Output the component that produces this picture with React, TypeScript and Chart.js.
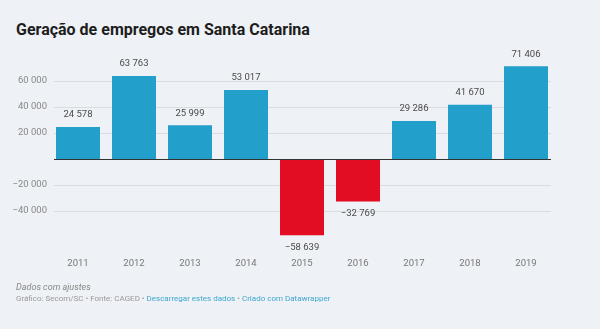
import React, { useEffect, useRef } from "react";
import { Chart, registerables } from "chart.js";

Chart.register(...registerables);

const years = ["2011", "2012", "2013", "2014", "2015", "2016", "2017", "2018", "2019"];
const values = [24578, 63763, 25999, 53017, -58639, -32769, 29286, 41670, 71406];
const yTickValues = [60000, 40000, 20000, -20000, -40000];
const yMin = -70000;
const yMax = 80000;

const BLUE = "#229fcb";
const RED = "#e20d22";
const BG = "#eef1f5";
const FONT = "Roboto, 'Noto Sans', sans-serif";

function fmt(v: number): string {
  const s = Math.abs(v).toString().replace(/\B(?=(\d{3})+(?!\d))/g, " ");
  return (v < 0 ? "\u2212" : "") + s;
}

const gridPlugin = {
  id: "customGrid",
  beforeDatasetsDraw(chart: any) {
    const { ctx, chartArea, scales } = chart;
    const y = scales.y;
    ctx.save();
    ctx.strokeStyle = "#d8dbe0";
    ctx.lineWidth = 1;
    yTickValues.forEach((v) => {
      const py = Math.round(y.getPixelForValue(v)) + 0.5;
      ctx.beginPath();
      ctx.moveTo(chartArea.left + 4, py);
      ctx.lineTo(chartArea.right - 3, py);
      ctx.stroke();
    });
    ctx.restore();
  },
  afterDatasetsDraw(chart: any) {
    const { ctx, chartArea, scales } = chart;
    const y = scales.y;
    ctx.save();
    const py = Math.round(y.getPixelForValue(0)) + 0.5;
    ctx.strokeStyle = "#333333";
    ctx.lineWidth = 1;
    ctx.beginPath();
    ctx.moveTo(chartArea.left + 4, py);
    ctx.lineTo(chartArea.right - 3, py);
    ctx.stroke();

    const meta = chart.getDatasetMeta(0);
    ctx.fillStyle = "#4a4a4a";
    ctx.font = `9.5px ${FONT}`;
    ctx.textAlign = "center";
    ctx.textBaseline = "middle";
    meta.data.forEach((el: any, i: number) => {
      const v = values[i];
      const ly = v >= 0 ? el.y - 12 : el.y + 12;
      ctx.fillText(fmt(v), el.x, ly);
    });
    ctx.restore();
  },
};

export default function App() {
  const canvasRef = useRef<HTMLCanvasElement | null>(null);

  useEffect(() => {
    if (!canvasRef.current) return;
    const chart = new Chart(canvasRef.current, {
      type: "bar",
      data: {
        labels: years,
        datasets: [
          {
            data: values,
            backgroundColor: values.map((v) => (v >= 0 ? BLUE : RED)),
            barPercentage: 44 / 56,
            categoryPercentage: 1,
            borderWidth: 0,
          },
        ],
      },
      options: {
        responsive: false,
        animation: false,
        devicePixelRatio: 1,
        layout: { padding: { left: 0, right: 46, top: 55, bottom: 49 } },
        plugins: {
          legend: { display: false },
          tooltip: { enabled: false },
          title: { display: false },
        },
        scales: {
          x: {
            grid: { display: false, drawTicks: false },
            border: { display: false },
            ticks: {
              color: "#777777",
              font: { family: FONT, size: 9.5 },
              padding: 8,
            },
            afterFit(scale: any) {
              scale.height = 30;
            },
          },
          y: {
            min: yMin,
            max: yMax,
            grid: { display: false, drawTicks: false },
            border: { display: false },
            ticks: {
              color: "#888888",
              font: { family: FONT, size: 9.5 },
              padding: 3,
              callback: (v: any) => fmt(Number(v)),
            },
            afterBuildTicks(scale: any) {
              scale.ticks = yTickValues.map((v) => ({ value: v }));
            },
            afterFit(scale: any) {
              scale.width = 50;
            },
          },
        },
      },
      plugins: [gridPlugin],
    });
    return () => chart.destroy();
  }, []);

  return (
    <div
      style={{
        position: "fixed",
        left: 0,
        top: 0,
        width: 600,
        height: 329,
        background: BG,
        fontFamily: FONT,
        overflow: "hidden",
      }}
    >
      <div
        style={{
          position: "absolute",
          left: 16,
          top: 20,
          fontSize: 16,
          fontWeight: 700,
          color: "#1d1d1d",
          lineHeight: "20px",
          whiteSpace: "nowrap",
        }}
      >
        Geração de empregos em Santa Catarina
      </div>
      <canvas
        ref={canvasRef}
        width={600}
        height={329}
        style={{ position: "absolute", left: 0, top: 0, width: 600, height: 329 }}
      />
      <div
        style={{
          position: "absolute",
          left: 16,
          top: 281,
          fontSize: 9,
          fontStyle: "italic",
          color: "#888888",
          lineHeight: "12px",
          whiteSpace: "nowrap",
        }}
      >
        Dados com ajustes
      </div>
      <div
        style={{
          position: "absolute",
          left: 16,
          top: 293,
          fontSize: 8,
          color: "#999999",
          lineHeight: "11px",
          whiteSpace: "nowrap",
        }}
      >
        Gráfico: Secom/SC • Fonte: CAGED •{" "}
        <span style={{ color: "#3ea6cf" }}>Descarregar estes dados</span> •{" "}
        <span style={{ color: "#3ea6cf" }}>Criado com Datawrapper</span>
      </div>
    </div>
  );
}
